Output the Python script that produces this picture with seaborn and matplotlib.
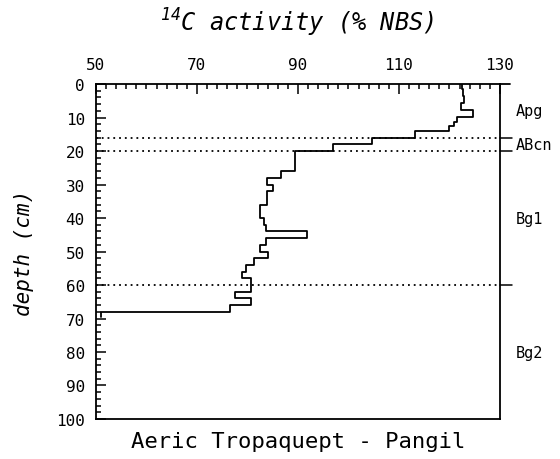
import numpy as np
import pandas as pd
import seaborn as sns
import matplotlib.pyplot as plt
from matplotlib.ticker import MultipleLocator
import matplotlib.transforms as mtransforms

# 14C activity of each sampled layer (% NBS) and layer depths (cm)
activity = [122.4, 122.6, 122.8, 122.3, 124.7, 121.4, 120.8, 120.0, 113.1, 104.6, 96.9,
            89.4, 86.6, 83.8, 85.0, 83.8, 82.5, 83.3, 83.7, 91.8, 83.7, 82.5, 84.1,
            81.3, 79.7, 79.0, 80.6, 77.5, 80.6, 76.5, 51.0]
depth_top = [0, 1.5, 3.5, 5.7, 7.8, 9.8, 11.2, 12.5, 14, 16, 18, 20, 26, 28, 30, 32,
             36, 40, 42, 44, 46, 48, 50, 52, 54, 56, 58, 62, 64, 66, 68]
depth_bottom = depth_top[1:] + [69.5]

# soil horizons
horizon_bounds = [0, 16, 20, 60, 100]
horizon_names = ['Apg', 'ABcn', 'Bg1', 'Bg2']

# axis ticks
x_ticks = [50, 70, 90, 110, 130]

# step profile: each layer drawn as a vertical segment
prof = pd.DataFrame({
    'activity': np.repeat(activity, 2),
    'depth': np.column_stack([depth_top, depth_bottom]).ravel(),
})

sns.set_style('ticks')
plt.rcParams['font.family'] = ['DejaVu Sans Mono', 'DejaVu Sans']
plt.rcParams['mathtext.fontset'] = 'custom'
plt.rcParams['mathtext.rm'] = 'DejaVu Sans Mono:italic'
plt.rcParams['mathtext.it'] = 'DejaVu Sans Mono:italic'
plt.rcParams['text.color'] = 'black'
plt.rcParams['axes.labelcolor'] = 'black'
plt.rcParams['xtick.color'] = 'black'
plt.rcParams['ytick.color'] = 'black'

fig = plt.figure(figsize=(5.6, 4.6), dpi=100)
ax = fig.add_axes([0.1714, 0.087, 0.7214, 0.728])

sns.lineplot(data=prof, x='activity', y='depth', sort=False, estimator=None,
             color='black', lw=1.3, ax=ax)

# horizon boundaries
blend = mtransforms.blended_transform_factory(ax.transAxes, ax.transData)
for d in horizon_bounds[1:-1]:
    ax.axhline(d, color='black', ls=(0, (1, 2.2)), lw=1.3)
    ax.plot([1.0, 1.03], [d, d], color='black', lw=1.1, clip_on=False, transform=blend)

# horizon names
for name, d0, d1 in zip(horizon_names, horizon_bounds[:-1], horizon_bounds[1:]):
    ax.text(1.04, (d0 + d1) / 2, name, fontsize=11, va='center', ha='left',
            transform=blend)

# top line runs a little past the right edge
ax.plot([1.0, 1.025], [1.0, 1.0], color='black', lw=1.3, clip_on=False,
        transform=ax.transAxes)

ax.set_xlim(50, 130)
ax.set_ylim(100, 0)
ax.xaxis.tick_top()
ax.set_xticks(x_ticks)
ax.xaxis.set_minor_locator(MultipleLocator(2))
ax.yaxis.set_major_locator(MultipleLocator(10))
ax.yaxis.set_minor_locator(MultipleLocator(2))
ax.tick_params(which='both', direction='in', labelsize=11.5, width=1.1, color='black')
ax.tick_params(axis='x', which='both', top=True, bottom=False, pad=9)
ax.tick_params(axis='y', which='both', left=True, right=False, pad=8)
ax.tick_params(which='major', length=7)
ax.tick_params(which='minor', length=3.5)

for s in ax.spines.values():
    s.set_linewidth(1.3)
    s.set_color('black')

ax.set_xlabel('')
ax.set_ylabel('depth (cm)', fontsize=15, fontstyle='italic', labelpad=16)

fig.text(0.53, 0.95, r'$^{14}$C activity (% NBS)', fontsize=17, fontstyle='italic',
         ha='center', va='center')
fig.text(0.532, 0.04, 'Aeric Tropaquept - Pangil', fontsize=16, ha='center', va='center')

fig.savefig('out.png', dpi=100)
